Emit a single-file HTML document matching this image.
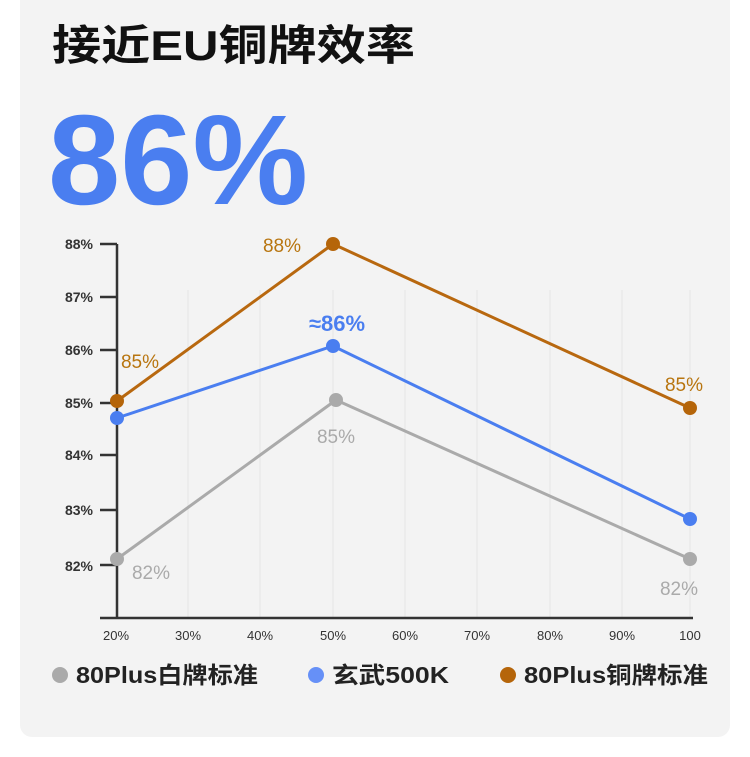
<!DOCTYPE html>
<html><head><meta charset="utf-8"><style>
body{margin:0;background:#fff;width:750px;height:757px;overflow:hidden;font-family:"Liberation Sans","Noto Sans CJK SC",sans-serif}
.card{position:absolute;left:20px;top:-20px;width:710px;height:757px;background:#f3f3f3;border-radius:12px}
</style></head><body>
<div class="card"></div>
<svg width="750" height="757" style="position:absolute;left:0;top:0" font-family="Liberation Sans, Noto Sans CJK SC, sans-serif">
<text x="52" y="60" font-size="42" font-weight="700" fill="#111" textLength="363" lengthAdjust="spacingAndGlyphs">接近EU铜牌效率</text>
<text x="48" y="204" font-size="128" font-weight="700" fill="#4a7ef0" textLength="260" lengthAdjust="spacingAndGlyphs">86%</text>
<g stroke="#e4e4e4" stroke-width="1">
<line x1="188" y1="290" x2="188" y2="618"/><line x1="260" y1="290" x2="260" y2="618"/><line x1="333" y1="290" x2="333" y2="618"/><line x1="405" y1="290" x2="405" y2="618"/><line x1="477" y1="290" x2="477" y2="618"/><line x1="550" y1="290" x2="550" y2="618"/><line x1="622" y1="290" x2="622" y2="618"/><line x1="690" y1="290" x2="690" y2="618"/>
</g>
<g stroke="#333" stroke-width="2.5">
<line x1="117" y1="244" x2="117" y2="618"/><line x1="100" y1="618" x2="693" y2="618"/>
<line x1="100" y1="244" x2="117" y2="244"/><line x1="100" y1="297" x2="117" y2="297"/><line x1="100" y1="350" x2="117" y2="350"/><line x1="100" y1="403" x2="117" y2="403"/><line x1="100" y1="455" x2="117" y2="455"/><line x1="100" y1="510" x2="117" y2="510"/><line x1="100" y1="565" x2="117" y2="565"/>
</g>
<g font-size="14" font-weight="700" fill="#333" text-anchor="end">
<text x="93" y="249">88%</text><text x="93" y="302">87%</text><text x="93" y="355">86%</text><text x="93" y="408">85%</text><text x="93" y="460">84%</text><text x="93" y="515">83%</text><text x="93" y="571">82%</text>
</g>
<g font-size="13" fill="#333" text-anchor="middle">
<text x="116" y="640">20%</text><text x="188" y="640">30%</text><text x="260" y="640">40%</text><text x="333" y="640">50%</text><text x="405" y="640">60%</text><text x="477" y="640">70%</text><text x="550" y="640">80%</text><text x="622" y="640">90%</text><text x="690" y="640">100</text>
</g>
<polyline points="117,559 336,400 690,559" fill="none" stroke="#aaa" stroke-width="3"/>
<polyline points="117,418 333,346 690,519" fill="none" stroke="#4a7ef0" stroke-width="3"/>
<polyline points="117,401 333,244 690,408" fill="none" stroke="#b8680f" stroke-width="3"/>
<g fill="#aaa"><circle cx="117" cy="559" r="7"/><circle cx="336" cy="400" r="7"/><circle cx="690" cy="559" r="7"/></g>
<g fill="#4a7ef0"><circle cx="117" cy="418" r="7"/><circle cx="333" cy="346" r="7"/><circle cx="690" cy="519" r="7"/></g>
<g fill="#b5650a"><circle cx="117" cy="401" r="7"/><circle cx="333" cy="244" r="7"/><circle cx="690" cy="408" r="7"/></g>
<g font-size="19" text-anchor="middle">
<text x="140" y="368" fill="#b8750f">85%</text><text x="282" y="252" fill="#b8750f">88%</text><text x="684" y="391" fill="#b8750f">85%</text>
<text x="336" y="443" fill="#aaa">85%</text><text x="151" y="579" fill="#aaa">82%</text><text x="679" y="595" fill="#aaa">82%</text>
<text x="337" y="331" fill="#4a7ef0" font-weight="700" font-size="22">≈86%</text>
</g>
<circle cx="60" cy="675" r="8" fill="#aaa"/><circle cx="316" cy="675" r="8" fill="#6690f7"/><circle cx="508" cy="675" r="8" fill="#b5650a"/>
<g font-size="23" font-weight="700" fill="#222">
<text x="76" y="683" textLength="182" lengthAdjust="spacingAndGlyphs">80Plus白牌标准</text><text x="332" y="683" textLength="117" lengthAdjust="spacingAndGlyphs">玄武500K</text><text x="524" y="683" textLength="184" lengthAdjust="spacingAndGlyphs">80Plus铜牌标准</text>
</g>
</svg>
</body></html>
